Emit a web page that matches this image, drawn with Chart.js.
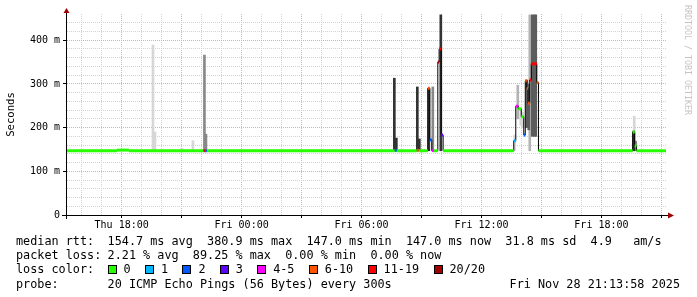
<!DOCTYPE html>
<html>
<head>
<meta charset="utf-8">
<script src="https://cdn.jsdelivr.net/npm/chart.js@4.4.0/dist/chart.umd.min.js"></script>
<style>
  html, body { margin: 0; padding: 0; background: #fff; }
  #wrap { position: relative; width: 697px; height: 297px; overflow: hidden; }
  #graph { position: absolute; left: 0; top: 0; }
  .txt { position: absolute; font-family: "DejaVu Sans Mono", monospace; font-size: 11.8px; line-height: 14px; white-space: pre; color: #000; }
  .box { position: absolute; width: 7px; height: 7px; border: 1px solid #000; }
  #mark { position: absolute; left: 683px; top: 5px; font-family: "DejaVu Sans Mono", monospace; font-size: 8.3px; line-height: 9px; color: #c4c4c4; writing-mode: vertical-rl; white-space: pre; }
</style>
</head>
<body>
<div id="wrap">
  <canvas id="graph" width="697" height="297"></canvas>
  <div id="mark">RRDTOOL / TOBI OETIKER</div>
</div>
<script>
// ===== DATA =====
// x values are hours counted from Thu 00:00
const xMin = 15.215;
const xMax = 45.23;
const yMax = 460; // ms

const xTickHours = [18, 24, 30, 36, 42];
const xTickLabels = ["Thu 18:00", "Fri 00:00", "Fri 06:00", "Fri 12:00", "Fri 18:00"];
const yTickValues = [0, 100, 200, 300, 400];
const yTickLabels = ["0", "100 m", "200 m", "300 m", "400 m"];

const lossLabels = ["0", "1", "2", "3", "4-5", "6-10", "11-19", "20/20"];
const lossColors = ["#26ff00", "#00b8ff", "#0059ff", "#5e00ff", "#ff00ff", "#ff5500", "#ff0000", "#a10000"];

// median rtt, one entry per step: start hour, value in ms, loss bucket
const medianTimes  = [15.215, 17.765, 18.365, 22.09, 22.165, 22.265, 31.665, 31.765, 32.765, 32.865,
                      33.315, 33.415, 33.515, 33.615, 33.815, 33.88, 33.98, 34.08,
                      37.615, 37.715, 37.84, 37.99, 38.115, 38.19, 38.265, 38.33, 38.415, 38.49, 38.765, 38.85,
                      43.565, 43.665, 43.75];
const medianValues = [147, 148.5, 147, 147, 147, 147, 148, 147, 148, 147,
                      290, 172, 147.5, 147, 350, 380, 183, 147,
                      170, 249, 243, 225, 183, 307, 290, 256, 309, 346, 303, 147,
                      190, 158, 147];
const medianLoss   = [0, 0, 0, 6, 2, 0, 2, 0, 5, 0,
                      5, 2, 4, 0, 7, 6, 3, 0,
                      1, 4, 0, 0, 2, 5, 5, 5, 6, 6, 5, 0,
                      0, 0, 0];

// smoke columns: hour, low / high ping rtt in ms, ping density (1 = sparse .. 5 = dense)
const smokeTimes   = [19.565, 19.665, 21.015, 21.565, 22.14, 22.215,
                      31.64, 31.74, 32.79, 32.89, 33.365, 33.565, 33.965,
                      37.665, 37.815, 37.965, 38.065, 38.265, 38.365, 38.415, 38.54, 38.64, 38.715,
                      43.64, 43.615, 43.715];
const smokeLow     = [147, 147, 147, 147, 147, 147,
                      147, 147, 147, 147, 147, 147, 147,
                      147, 220, 205, 200, 200, 195, 147, 180, 180, 180,
                      147, 147, 147];
const smokeHigh    = [389, 190, 153, 170, 366, 185,
                      313, 176, 293, 174, 290, 293, 458,
                      183, 297, 245, 235, 309, 300, 458, 458, 458, 458,
                      226, 192, 169];
const smokeDensity = [1, 1, 1, 1, 3, 3,
                      5, 5, 5, 5, 5, 3, 5,
                      1, 2, 1, 1, 4, 4, 2, 4, 4, 4,
                      1, 5, 3];

const rttStats  = ["154.7 ms avg", "380.9 ms max", "147.0 ms min", "147.0 ms now", "31.8 ms sd", "4.9   am/s"];
const lossStats = ["2.21 % avg", "89.25 % max", "0.00 % min", "0.00 % now"];
const probeText = "20 ICMP Echo Pings (56 Bytes) every 300s";
const stampText = "Fri Nov 28 21:13:58 2025";

// ===== DATASETS =====
const densityGreys = { 1: "#d6d6d6", 2: "#b4b4b4", 3: "#888888", 4: "#5c5c5c", 5: "#333333" };

// colored loss markers: one flat piece per step, broken by a gap
const overlay = [];
const overlayLoss = [];
medianTimes.forEach((t, i) => {
  const end = i + 1 < medianTimes.length ? medianTimes[i + 1] : xMax;
  overlay.push({ x: t, y: medianValues[i] }, { x: end, y: medianValues[i] }, { x: end, y: null });
  overlayLoss.push(medianLoss[i], medianLoss[i], medianLoss[i]);
});

const medianLine = medianTimes.map((t, i) => ({ x: t, y: medianValues[i] }));
medianLine.push({ x: xMax, y: medianValues[medianValues.length - 1] });

const smokeSets = [5, 4, 3, 2, 1].map(d => ({
  type: "bar",
  data: smokeTimes
    .map((t, i) => ({ x: t, y: [smokeLow[i], smokeHigh[i]], d: smokeDensity[i] }))
    .filter(p => p.d === d),
  backgroundColor: densityGreys[d],
  borderWidth: 0,
  barThickness: 2,
  grouped: false
}));

// ===== AXIS DECORATION =====
const axisArrows = {
  id: "axisArrows",
  afterDraw(chart) {
    const { ctx, chartArea: a } = chart;
    const bx = a.left + 0.5, by = a.bottom + 0.5;
    ctx.save();
    ctx.strokeStyle = "#000";
    ctx.lineWidth = 1;
    ctx.beginPath();
    ctx.moveTo(a.left - 4, by); ctx.lineTo(a.right + 3, by);
    ctx.moveTo(bx, a.bottom + 4); ctx.lineTo(bx, a.top - 1);
    ctx.stroke();
    ctx.fillStyle = "#a00000";
    ctx.beginPath();
    ctx.moveTo(a.right + 2, by - 3); ctx.lineTo(a.right + 8, by); ctx.lineTo(a.right + 2, by + 3);
    ctx.fill();
    ctx.beginPath();
    ctx.moveTo(bx - 3, a.top - 1); ctx.lineTo(bx, a.top - 6); ctx.lineTo(bx + 3, a.top - 1);
    ctx.fill();
    ctx.restore();
  }
};

const minorGrid = "#d2d2d2";
const majorGrid = "#e6aaaa";
const clear = "rgba(0,0,0,0)";
const axisFont = { family: "DejaVu Sans Mono", size: 10 };

// ===== CHART =====
new Chart(document.getElementById("graph"), {
  type: "line",
  data: {
    datasets: [
      {
        data: overlay,
        borderWidth: 3,
        borderColor: lossColors[0],
        segment: { borderColor: c => lossColors[overlayLoss[c.p0DataIndex]] },
        pointRadius: 0,
        spanGaps: false
      },
      {
        data: medianLine,
        borderWidth: 1,
        borderColor: "#000",
        stepped: "before",
        pointRadius: 0
      },
      ...smokeSets
    ]
  },
  options: {
    responsive: false,
    animation: false,
    events: [],
    layout: { padding: { top: 14, right: 31, bottom: 0, left: 0 } },
    plugins: { legend: { display: false }, tooltip: { enabled: false } },
    scales: {
      x: {
        type: "linear",
        min: xMin,
        max: xMax,
        offset: false,
        afterBuildTicks: s => {
          s.ticks = [];
          for (let h = Math.ceil(xMin); h <= Math.floor(xMax); h++) s.ticks.push({ value: h });
        },
        afterFit: s => { s.height = 82; },
        grid: {
          offset: false,
          color: c => (c.tick.value % 3 === 0 ? majorGrid : minorGrid),
          tickColor: c => (c.tick.value % 3 === 0 ? "#000" : clear),
          tickLength: 3,
          lineWidth: 1
        },
        border: { color: "#000", dash: [1, 1] },
        ticks: {
          autoSkip: false,
          maxRotation: 0,
          minRotation: 0,
          padding: 1,
          color: "#000",
          font: axisFont,
          callback: v => {
            const i = xTickHours.indexOf(v);
            return i >= 0 ? xTickLabels[i] : "";
          }
        }
      },
      y: {
        type: "linear",
        min: 0,
        max: yMax,
        afterBuildTicks: s => {
          s.ticks = [];
          for (let v = 0; v <= yMax; v += 20) s.ticks.push({ value: v });
        },
        afterFit: s => { s.width = 66; },
        grid: {
          color: c => {
            const v = c.tick.value;
            if (v <= 0 || v >= yMax) return clear;
            return v % 100 === 0 ? majorGrid : minorGrid;
          },
          tickColor: c => (c.tick.value % 100 === 0 ? "#000" : clear),
          tickLength: 3
        },
        border: { color: "#000", dash: [1, 1] },
        title: {
          display: true,
          text: "Seconds",
          color: "#000",
          font: { family: "DejaVu Sans Mono", size: 10.6 },
          padding: { top: 4.6, bottom: 0 }
        },
        ticks: {
          autoSkip: false,
          padding: 3,
          color: "#000",
          font: axisFont,
          callback: v => {
            const i = yTickValues.indexOf(v);
            return i >= 0 ? yTickLabels[i] : "";
          }
        }
      }
    }
  },
  plugins: [axisArrows]
});

// ===== LEGEND TEXT =====
const wrap = document.getElementById("wrap");
const charW = 7.13;
const valueX = 107.6;

function addText(str, x, y, right) {
  const el = document.createElement("div");
  el.className = "txt";
  el.textContent = str;
  el.style.top = y + "px";
  if (right) el.style.right = (697 - x) + "px";
  else el.style.left = x + "px";
  wrap.appendChild(el);
}

const rowTop = [234, 248.3, 262.4, 276.7];
addText("median rtt:", 16, rowTop[0]);
addText(rttStats.join("  "), valueX, rowTop[0]);
addText("packet loss:", 16, rowTop[1]);
addText(lossStats.join("  "), valueX, rowTop[1]);
addText("loss color:", 16, rowTop[2]);
let lx = valueX;
lossLabels.forEach((lab, i) => {
  const box = document.createElement("div");
  box.className = "box";
  box.style.left = lx + "px";
  box.style.top = (rowTop[2] + 3) + "px";
  box.style.background = lossColors[i];
  wrap.appendChild(box);
  addText(lab, lx + 16, rowTop[2]);
  lx += 16 + lab.length * charW + 2 * charW;
});
addText("probe:", 16, rowTop[3]);
addText(probeText, valueX, rowTop[3]);
addText(stampText, 680, rowTop[3], true);
</script>
</body>
</html>
